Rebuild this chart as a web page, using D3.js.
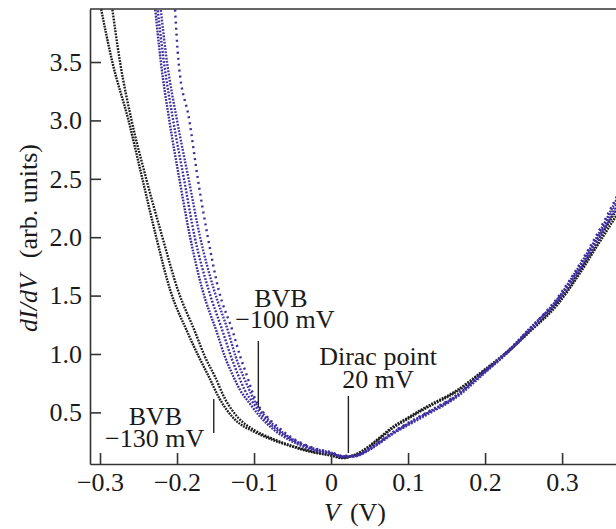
<!DOCTYPE html>
<html>
<head>
<meta charset="utf-8">
<script src="https://cdn.jsdelivr.net/npm/d3@7"></script>
<style>
  body { margin: 0; background: #fff; }
  text { font-family: "Liberation Serif", "Times New Roman", serif; fill: #1a1a1a; }
</style>
</head>
<body>
<svg id="chart" width="616" height="529"></svg>
<script>
// tick values
const xTicks = [-0.3, -0.2, -0.1, 0, 0.1, 0.2, 0.3];
const yTicks = [0.5, 1.0, 1.5, 2.0, 2.5, 3.0, 3.5];

// [V (V), dI/dV (arb. units)]
const black1 = [[-0.300, 4.0], [-0.284, 3.5], [-0.263, 3.0], [-0.245, 2.5], [-0.227, 2.0], [-0.209, 1.55],
  [-0.186, 1.18], [-0.172, 0.98], [-0.159, 0.81], [-0.145, 0.62], [-0.125, 0.44], [-0.1, 0.335],
  [-0.075, 0.262], [-0.05, 0.206], [-0.025, 0.16], [0, 0.13], [0.015, 0.108], [0.03, 0.13],
  [0.05, 0.205], [0.065, 0.285], [0.08, 0.365], [0.1, 0.445], [0.115, 0.505], [0.13, 0.56],
  [0.16, 0.665], [0.2, 0.86], [0.225, 0.99], [0.258, 1.19], [0.295, 1.43], [0.323, 1.69],
  [0.345, 1.92], [0.372, 2.2]];
const black2 = [[-0.285, 4.0], [-0.274, 3.5], [-0.259, 3.0], [-0.24, 2.5], [-0.219, 2.0], [-0.199, 1.55],
  [-0.176, 1.18], [-0.164, 0.98], [-0.151, 0.81], [-0.138, 0.62], [-0.12, 0.45], [-0.1, 0.35],
  [-0.075, 0.272], [-0.05, 0.212], [-0.025, 0.166], [0, 0.134], [0.015, 0.112], [0.03, 0.135],
  [0.05, 0.215], [0.065, 0.295], [0.08, 0.375], [0.1, 0.455], [0.115, 0.515], [0.13, 0.57],
  [0.16, 0.675], [0.2, 0.87], [0.225, 1.0], [0.258, 1.2], [0.295, 1.45], [0.323, 1.71],
  [0.345, 1.95], [0.372, 2.25]];
const blue1 = [[-0.229, 4.0], [-0.221, 3.5], [-0.21, 3.0], [-0.197, 2.5], [-0.183, 2.0], [-0.167, 1.55],
  [-0.148, 1.18], [-0.138, 0.98], [-0.127, 0.81], [-0.118, 0.69], [-0.106, 0.58], [-0.093, 0.47],
  [-0.075, 0.355], [-0.05, 0.25], [-0.025, 0.18], [0, 0.145], [0.015, 0.118], [0.03, 0.125],
  [0.05, 0.185], [0.065, 0.25], [0.08, 0.32], [0.1, 0.4], [0.13, 0.51], [0.16, 0.625],
  [0.2, 0.85], [0.225, 0.99], [0.258, 1.21], [0.295, 1.48], [0.323, 1.76], [0.345, 2.0], [0.372, 2.34]];
const blue2 = [[-0.226, 4.0], [-0.217, 3.5], [-0.205, 3.0], [-0.191, 2.5], [-0.177, 2.0], [-0.159, 1.55],
  [-0.14, 1.18], [-0.13, 0.98], [-0.12, 0.81], [-0.112, 0.69], [-0.101, 0.58], [-0.089, 0.47],
  [-0.072, 0.36], [-0.05, 0.262], [-0.025, 0.19], [0, 0.15], [0.015, 0.122], [0.03, 0.128],
  [0.05, 0.19], [0.065, 0.255], [0.08, 0.325], [0.1, 0.405], [0.13, 0.515], [0.16, 0.63],
  [0.2, 0.855], [0.225, 0.995], [0.258, 1.22], [0.295, 1.47], [0.323, 1.74], [0.345, 1.98], [0.372, 2.3]];
const blue3 = [[-0.222, 4.0], [-0.213, 3.5], [-0.2, 3.0], [-0.185, 2.5], [-0.17, 2.0], [-0.152, 1.55],
  [-0.133, 1.18], [-0.124, 0.98], [-0.114, 0.81], [-0.106, 0.69], [-0.098, 0.58], [-0.086, 0.47],
  [-0.07, 0.365], [-0.05, 0.27], [-0.025, 0.195], [0, 0.155], [0.015, 0.125], [0.03, 0.122],
  [0.05, 0.18], [0.065, 0.245], [0.08, 0.315], [0.1, 0.39], [0.13, 0.5], [0.16, 0.615],
  [0.2, 0.84], [0.225, 0.985], [0.258, 1.2], [0.295, 1.46], [0.323, 1.72], [0.345, 1.96], [0.372, 2.27]];
const blue4 = [[-0.203, 4.0], [-0.198, 3.5], [-0.184, 3.0], [-0.173, 2.5], [-0.16, 2.0], [-0.146, 1.55],
  [-0.127, 1.18], [-0.118, 0.98], [-0.109, 0.81], [-0.103, 0.69], [-0.096, 0.58], [-0.084, 0.47],
  [-0.068, 0.37], [-0.05, 0.28], [-0.025, 0.2], [0, 0.158], [0.015, 0.128], [0.03, 0.13],
  [0.05, 0.195], [0.065, 0.26], [0.08, 0.33], [0.1, 0.41], [0.13, 0.52], [0.16, 0.635],
  [0.2, 0.86], [0.225, 1.0], [0.258, 1.215], [0.295, 1.49], [0.323, 1.77], [0.345, 2.02], [0.372, 2.36]];

// annotations: marker line at v from g0 to g1, two text lines
const notes = [
  { v: -0.1523, g0: 0.615, g1: 0.324, tv: [-0.228, -0.229], lines: ["BVB", "\u2212130 mV"], tg: [0.392, 0.204] },
  { v: -0.0944, g0: 1.111, g1: 0.546, tv: [-0.065, -0.060], lines: ["BVB", "\u2212100 mV"], tg: [1.405, 1.223] },
  { v: 0.0225, g0: 0.640, g1: 0.152, tv: [0.061, 0.061], lines: ["Dirac point", "20 mV"], tg: [0.906, 0.709] }
];

const svg = d3.select("#chart");
const plotLeft = 90, plotTop = 9, plotRight = 616, plotBottom = 464;

const x = d3.scaleLinear().domain([-0.313, 0.370]).range([plotLeft, plotRight]);
const y = d3.scaleLinear().domain([0.058, 3.954]).range([plotBottom, plotTop]);

svg.append("defs").append("clipPath").attr("id", "plot")
  .append("rect").attr("x", plotLeft).attr("y", plotTop)
  .attr("width", plotRight - plotLeft).attr("height", plotBottom - plotTop);

const line = d3.line()
  .x((d) => x(d[0]))
  .y((d) => y(d[1]))
  .curve(d3.curveMonotoneX);

const curves = [
  { data: black1, color: "#1c1c1c", dash: "1.8 1" },
  { data: black2, color: "#1c1c1c", dash: "1.8 1.2" },
  { data: blue1, color: "#3b2d9c", dash: "1.8 1.2" },
  { data: blue2, color: "#3b2d9c", dash: "1.8 1.6" },
  { data: blue3, color: "#4434a8", dash: "1.8 1.4" },
  { data: blue4, color: "#3b2d9c", dash: "2 4" }
];

svg.append("g").attr("clip-path", "url(#plot)")
  .selectAll("path")
  .data(curves)
  .enter()
  .append("path")
  .attr("d", (d) => line(d.data))
  .style("fill", "none")
  .style("stroke", (d) => d.color)
  .style("stroke-width", 2.4)
  .style("stroke-dasharray", (d) => d.dash);

// axes, ticks pointing inward
const fmt = (d) => (d === 0 ? "0" : d3.format(".1f")(d));

const xAxis = svg.append("g")
  .attr("transform", `translate(0,${plotBottom})`)
  .call(d3.axisBottom(x).tickValues(xTicks).tickFormat(fmt)
    .tickSizeInner(-11).tickSizeOuter(0).tickPadding(9));

const yAxis = svg.append("g")
  .attr("transform", `translate(${plotLeft},0)`)
  .call(d3.axisLeft(y).tickValues(yTicks).tickFormat(d3.format(".1f"))
    .tickSizeInner(-11).tickSizeOuter(0).tickPadding(8));

[xAxis, yAxis].forEach((g) => {
  g.selectAll("path, line").attr("stroke", "#333").attr("stroke-width", 1.6);
  g.selectAll("text").style("font-size", "26px")
    .style("font-family", '"Liberation Serif", serif').attr("fill", "#1a1a1a");
});

// top frame line
svg.append("line")
  .attr("x1", plotLeft).attr("x2", plotRight)
  .attr("y1", plotTop).attr("y2", plotTop)
  .attr("stroke", "#333").attr("stroke-width", 1.6);

// axis labels
const yLab = svg.append("text")
  .attr("transform", `translate(37,238) rotate(-90)`)
  .attr("text-anchor", "middle")
  .style("font-size", "26px");
yLab.append("tspan").style("font-style", "italic").text("dI/dV");
yLab.append("tspan").attr("dx", 16).text("(arb. units)");

const xLab = svg.append("text")
  .attr("x", 355).attr("y", 521)
  .attr("text-anchor", "middle")
  .style("font-size", "26px");
xLab.append("tspan").style("font-style", "italic").text("V");
xLab.append("tspan").attr("dx", 10).text("(V)");

// annotations
const ann = svg.append("g");
notes.forEach((n) => {
  ann.append("line")
    .attr("x1", x(n.v)).attr("x2", x(n.v))
    .attr("y1", y(n.g0)).attr("y2", y(n.g1))
    .attr("stroke", "#222").attr("stroke-width", 1.4);
  const t = ann.append("text")
    .attr("text-anchor", "middle")
    .style("font-size", "26px");
  n.lines.forEach((s, i) => {
    t.append("tspan")
      .attr("x", x(n.tv[i]))
      .attr("y", y(n.tg[i]))
      .text(s);
  });
});
</script>
</body>
</html>
